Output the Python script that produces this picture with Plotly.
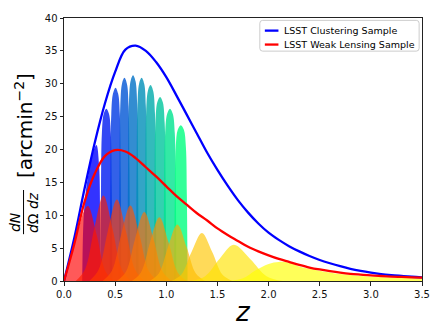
import plotly.graph_objects as go

# redshift grid and the two total distributions
z_grid = [0.0, 0.1, 0.2, 0.3, 0.4, 0.5, 0.6, 0.7, 0.8, 0.9, 1.0, 1.1, 1.2, 1.3,
          1.4, 1.5, 1.6, 1.7, 1.8, 1.9, 2.0, 2.1, 2.2, 2.3, 2.4, 2.5, 2.6, 2.7,
          2.8, 2.9, 3.0, 3.1, 3.2, 3.3, 3.4, 3.5]
clustering = [0.0, 6.5, 14.0, 21.0, 27.0, 31.8, 35.2, 35.8, 35.0, 33.3, 31.0, 28.2,
              25.3, 22.4, 19.5, 16.9, 14.5, 12.3, 10.4, 8.75, 7.35, 6.25, 5.3, 4.5,
              3.8, 3.2, 2.7, 2.25, 1.85, 1.53, 1.27, 1.06, 0.9, 0.77, 0.65, 0.55]
weak_lensing = [0.0, 5.6, 12.0, 16.3, 19.0, 19.9, 19.7, 18.7, 17.3, 15.9, 14.4, 12.9,
                11.6, 10.3, 9.2, 8.0, 7.0, 6.1, 5.2, 4.5, 3.9, 3.35, 2.9, 2.45,
                2.05, 1.75, 1.5, 1.28, 1.1, 0.97, 0.85, 0.76, 0.68, 0.62, 0.56, 0.5]

# clustering tomographic bins
cl_bin_z = [
    [0.178, 0.19, 0.21, 0.24, 0.27, 0.3, 0.318, 0.343, 0.353, 0.36],
    [0.356, 0.362, 0.3705, 0.388, 0.414, 0.440, 0.4575, 0.466, 0.472],
    [0.448, 0.454, 0.462, 0.479, 0.504, 0.529, 0.546, 0.554, 0.560],
    [0.537, 0.542, 0.5505, 0.567, 0.591, 0.615, 0.6315, 0.640, 0.645],
    [0.621, 0.626, 0.6345, 0.651, 0.675, 0.699, 0.7155, 0.724, 0.729],
    [0.704, 0.7095, 0.718, 0.734, 0.759, 0.784, 0.800, 0.8085, 0.814],
    [0.789, 0.795, 0.803, 0.820, 0.846, 0.872, 0.889, 0.897, 0.903],
    [0.879, 0.885, 0.894, 0.912, 0.939, 0.966, 0.984, 0.993, 0.999],
    [0.973, 0.979, 0.989, 1.008, 1.036, 1.064, 1.083, 1.093, 1.099],
    [1.076, 1.083, 1.0925, 1.112, 1.142, 1.172, 1.1915, 1.201, 1.208],
]
cl_bin_n = [
    [0, 9.0, 13.2, 16.3, 18.7, 20.3, 20.7, 17.6, 10.5, 0],
    [0, 14.4, 22.5, 25.4, 26.2, 25.4, 22.5, 14.4, 0],
    [0, 16.2, 25.3, 28.5, 29.4, 28.5, 25.3, 16.2, 0],
    [0, 17.0, 26.6, 30.0, 30.9, 30.0, 26.6, 17.0, 0],
    [0, 17.2, 26.9, 30.4, 31.3, 30.4, 26.9, 17.2, 0],
    [0, 17.0, 26.6, 30.0, 30.9, 30.0, 26.6, 17.0, 0],
    [0, 16.4, 25.6, 28.9, 29.8, 28.9, 25.6, 16.4, 0],
    [0, 15.4, 24.1, 27.2, 28.0, 27.2, 24.1, 15.4, 0],
    [0, 14.4, 22.5, 25.4, 26.2, 25.4, 22.5, 14.4, 0],
    [0, 13.0, 20.4, 23.0, 23.7, 23.0, 20.4, 13.0, 0],
]

# weak lensing tomographic bins
wl_bin_z = [
    [0.0, 0.05, 0.1, 0.15, 0.2, 0.235, 0.32, 0.405, 0.49],
    [0.115, 0.205, 0.295, 0.385, 0.475, 0.565, 0.655],
    [0.247, 0.337, 0.427, 0.517, 0.607, 0.697, 0.787],
    [0.378, 0.468, 0.558, 0.648, 0.738, 0.828, 0.918],
    [0.515, 0.605, 0.695, 0.785, 0.875, 0.965, 1.055],
    [0.662, 0.752, 0.842, 0.932, 1.022, 1.112, 1.202],
    [0.838, 0.928, 1.018, 1.108, 1.198, 1.288, 1.378],
    [1.048, 1.148, 1.248, 1.348, 1.448, 1.548, 1.648],
    [1.24, 1.38, 1.52, 1.66, 1.82, 1.98, 2.14],
    [1.62, 1.75, 1.87, 2.0, 2.1, 2.2, 2.3, 2.45, 2.65, 2.85, 3.05, 3.3, 3.5],
]
wl_bin_n = [
    [0, 2.5, 5.4, 8.4, 10.8, 11.4, 7.0, 1.5, 0],
    [0, 1.76, 7.9, 13.0, 7.9, 1.76, 0],
    [0, 1.67, 7.5, 12.4, 7.5, 1.67, 0],
    [0, 1.55, 7.0, 11.5, 7.0, 1.55, 0],
    [0, 1.42, 6.4, 10.5, 6.4, 1.42, 0],
    [0, 1.31, 5.9, 9.7, 5.9, 1.31, 0],
    [0, 1.16, 5.2, 8.6, 5.2, 1.16, 0],
    [0, 0.99, 4.45, 7.3, 4.45, 0.99, 0],
    [0, 0.74, 3.35, 5.5, 3.35, 0.74, 0],
    [0, 0.4, 1.6, 2.6, 2.9, 2.8, 2.2, 1.7, 1.15, 0.85, 0.62, 0.48, 0.4],
]

x_ticks = [0.0, 0.5, 1.0, 1.5, 2.0, 2.5, 3.0, 3.5]
y_ticks = [0, 5, 10, 15, 20, 25, 30, 35, 40]
legend_names = ["LSST Clustering Sample", "LSST Weak Lensing Sample"]
line_colors = ["#0000ff", "#ff0000"]


def winter(t, a):
    return "rgba(0,%d,%d,%s)" % (round(255 * t), round(255 * (1 - 0.5 * t)), a)


def autumn(t, a):
    return "rgba(255,%d,0,%s)" % (round(255 * t), a)


fig = go.Figure()

n_cl = len(cl_bin_z)
for i in range(n_cl):
    fig.add_trace(go.Scatter(
        x=cl_bin_z[i], y=cl_bin_n[i], mode="lines", fill="tozeroy",
        line=dict(width=0, shape="spline", smoothing=1),
        fillcolor=winter(i / (n_cl - 1), 0.8), showlegend=False, hoverinfo="skip"))

n_wl = len(wl_bin_z)
for i in range(n_wl):
    fig.add_trace(go.Scatter(
        x=wl_bin_z[i], y=wl_bin_n[i], mode="lines", fill="tozeroy",
        line=dict(width=0, shape="spline", smoothing=1),
        fillcolor=autumn(i / (n_wl - 1), 0.65), showlegend=False, hoverinfo="skip"))

for yv, name, col in zip([clustering, weak_lensing], legend_names, line_colors):
    fig.add_trace(go.Scatter(x=z_grid, y=yv, mode="lines", name=name, showlegend=False,
                             line=dict(color=col, width=2.3, shape="spline")))

axis_common = dict(showgrid=False, zeroline=False, showline=True, linecolor="#222",
                   linewidth=1, mirror=True, ticks="outside", ticklen=3.5, tickwidth=1,
                   tickcolor="#222", tickfont=dict(family="DejaVu Sans", size=10, color="#111"))

fig.update_layout(
    width=442, height=333,
    margin=dict(l=64, r=16, t=12, b=52),
    plot_bgcolor="white", paper_bgcolor="white",
    xaxis=dict(range=[0, 3.5], tickvals=x_ticks, tickformat=".1f", **axis_common),
    yaxis=dict(range=[0, 40], tickvals=y_ticks, **axis_common),
)

# legend drawn by hand (matplotlib look: short handles, rounded frame)
x0, x1, y0, y1 = 0.547, 0.992, 0.874, 0.991
rx, ry = 0.008, 0.011
fig.add_shape(type="path", xref="paper", yref="paper",
              path=(f"M {x0 + rx},{y0} L {x1 - rx},{y0} Q {x1},{y0} {x1},{y0 + ry} "
                    f"L {x1},{y1 - ry} Q {x1},{y1} {x1 - rx},{y1} L {x0 + rx},{y1} "
                    f"Q {x0},{y1} {x0},{y1 - ry} L {x0},{y0 + ry} Q {x0},{y0} {x0 + rx},{y0} Z"),
              fillcolor="rgba(255,255,255,0.8)", line=dict(color="#cccccc", width=1))
for ly, name, col in zip([0.952, 0.899], legend_names, line_colors):
    fig.add_shape(type="line", xref="paper", yref="paper", x0=0.561, x1=0.599, y0=ly, y1=ly,
                  line=dict(color=col, width=2.3))
    fig.add_annotation(text=name, xref="paper", yref="paper", x=0.608, y=ly,
                       xanchor="left", yanchor="middle", showarrow=False,
                       font=dict(family="DejaVu Sans", size=9.5, color="black"))

# axis titles
fig.add_annotation(text="<i>z</i>", xref="paper", yref="paper", x=0.5, y=-0.119,
                   xanchor="center", yanchor="middle", showarrow=False,
                   font=dict(family="DejaVu Sans", size=26, color="black"))
fig.add_annotation(text="<i>dN</i>", xref="paper", yref="paper", x=-0.135, y=0.223,
                   xanchor="center", yanchor="middle", textangle=-90, showarrow=False,
                   font=dict(family="DejaVu Sans", size=14, color="black"))
fig.add_annotation(text="<i>d</i>Ω <i>dz</i>", xref="paper", yref="paper", x=-0.088, y=0.26,
                   xanchor="center", yanchor="middle", textangle=-90, showarrow=False,
                   font=dict(family="DejaVu Sans", size=14, color="black"))
fig.add_annotation(text="[arcmin<sup>−2</sup>]", xref="paper", yref="paper", x=-0.113, y=0.591,
                   xanchor="center", yanchor="middle", textangle=-90, showarrow=False,
                   font=dict(family="DejaVu Sans", size=20, color="black"))
fig.add_shape(type="line", xref="paper", yref="paper", x0=-0.113, x1=-0.113, y0=0.178, y1=0.346,
              line=dict(color="black", width=1))

fig.write_html("out.html", config={"displayModeBar": False})

# drop the default page margin so the 442x333 figure fills the window exactly
with open("out.html", encoding="utf-8") as f:
    page = f.read()
page = page.replace("<body>", '<body style="margin:0">', 1)
with open("out.html", "w", encoding="utf-8") as f:
    f.write(page)
